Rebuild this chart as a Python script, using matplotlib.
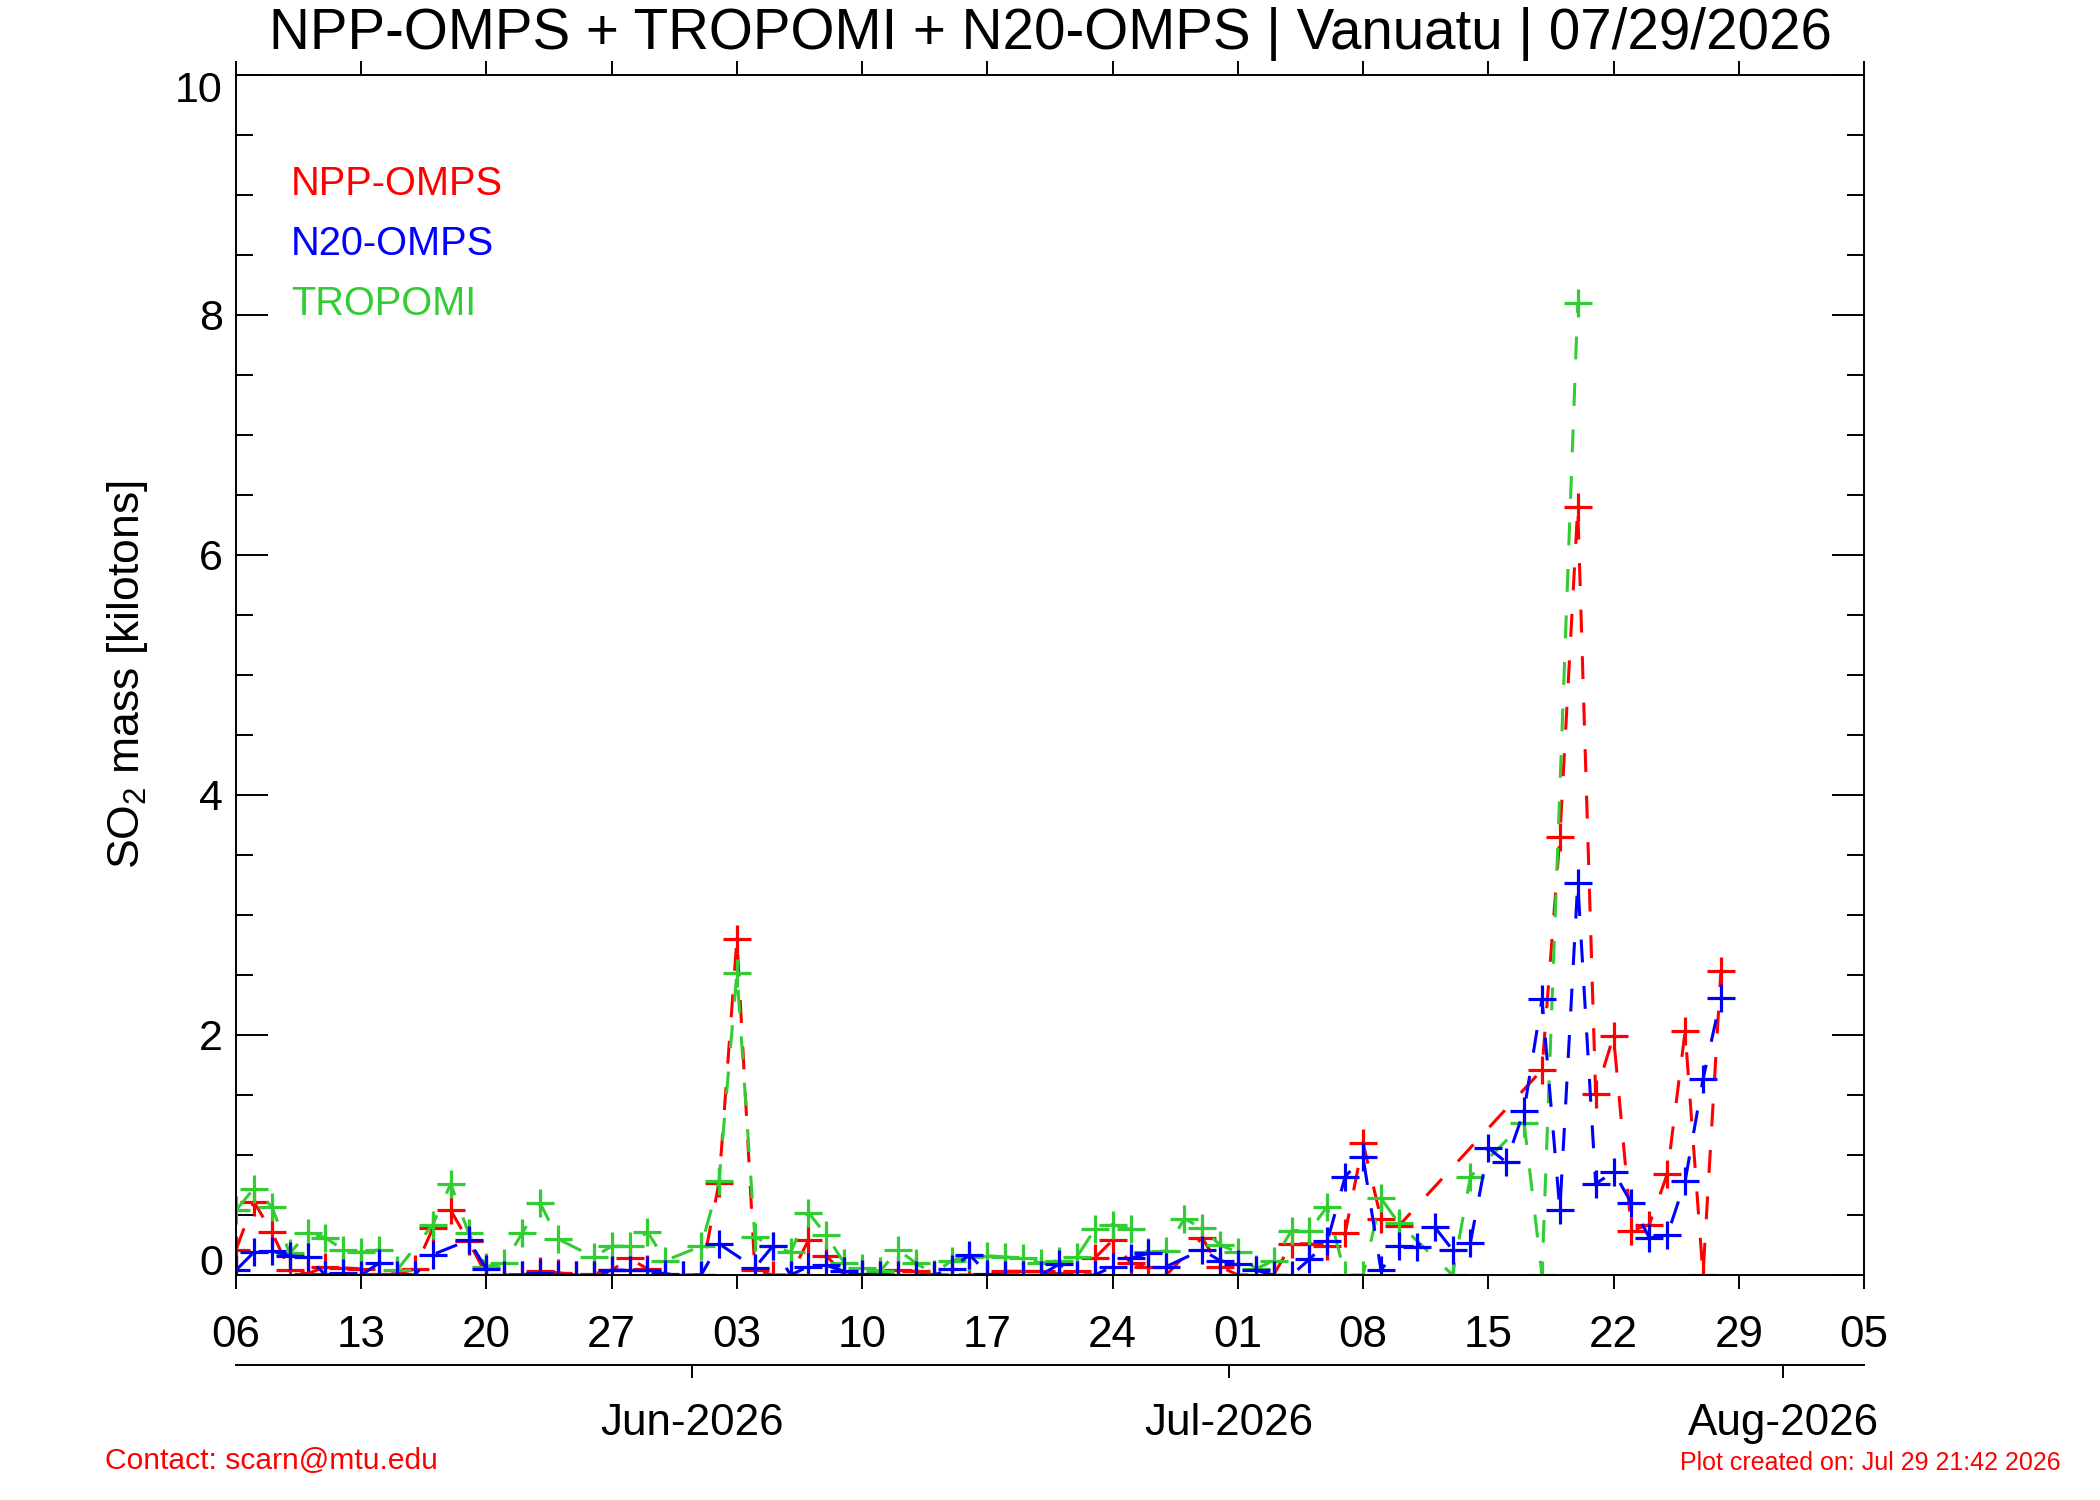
import matplotlib
matplotlib.use('Agg')
import matplotlib.pyplot as plt
import matplotlib.dates as mdates
from matplotlib.transforms import ScaledTranslation
from matplotlib.ticker import FixedLocator, FixedFormatter, MultipleLocator, NullLocator

plt.rcParams['font.family'] = ['Liberation Sans', 'DejaVu Sans']
plt.rcParams['mathtext.fontset'] = 'custom'
plt.rcParams['mathtext.rm'] = 'Liberation Sans'
plt.rcParams['mathtext.it'] = 'Liberation Sans:italic'
plt.rcParams['mathtext.default'] = 'rm'
plt.rcParams['lines.scale_dashes'] = False

YEAR = 2026
TITLE = 'NPP-OMPS + TROPOMI + N20-OMPS | Vanuatu | 07/29/2026'

# ---------------- data (MM-DD, kilotons) ----------------
npp_dates = ['05-06', '05-07', '05-08', '05-09', '05-10', '05-11', '05-12', '05-13', '05-14', '05-15',
             '05-16', '05-17', '05-18', '05-19', '05-20', '05-21', '05-22', '05-23', '05-24', '05-25',
             '05-26', '05-27', '05-28', '05-29', '05-30', '05-31', '06-01', '06-02', '06-03', '06-04',
             '06-05', '06-06', '06-07', '06-08', '06-09', '06-10', '06-11', '06-12', '06-13', '06-14',
             '06-15', '06-16', '06-17', '06-18', '06-19', '06-20', '06-21', '06-22', '06-23', '06-24',
             '06-25', '06-26', '06-27', '06-29', '06-30', '07-01', '07-02', '07-03', '07-04', '07-05',
             '07-06', '07-07', '07-08', '07-09', '07-10', '07-18', '07-19', '07-20', '07-21', '07-22',
             '07-23', '07-24', '07-25', '07-26', '07-27', '07-28']
npp_values = [0.21, 0.61, 0.36, 0.04, 0.01, 0.07, 0.06, 0.05, 0.01, 0.01,
              0.05, 0.39, 0.54, 0.28, 0.00, 0.00, 0.00, 0.03, 0.02, 0.00,
              0.01, 0.04, 0.14, 0.05, 0.00, 0.00, 0.00, 0.77, 2.80, 0.04,
              0.00, 0.00, 0.29, 0.16, 0.00, 0.00, 0.00, 0.04, 0.03, 0.00,
              0.00, 0.00, 0.00, 0.03, 0.03, 0.03, 0.01, 0.03, 0.14, 0.29,
              0.10, 0.07, 0.00, 0.31, 0.07, 0.00, 0.00, 0.00, 0.26, 0.26,
              0.24, 0.35, 1.10, 0.47, 0.41, 1.71, 3.65, 6.40, 1.51, 1.99,
              0.37, 0.42, 0.84, 2.03, 0.00, 2.53]

n20_dates = ['05-06', '05-07', '05-08', '05-09', '05-10', '05-11', '05-12', '05-13', '05-14', '05-15',
             '05-16', '05-17', '05-19', '05-20', '05-21', '05-22', '05-23', '05-24', '05-25', '05-26',
             '05-27', '05-28', '05-29', '05-30', '05-31', '06-01', '06-02', '06-04', '06-05', '06-06',
             '06-07', '06-08', '06-09', '06-10', '06-11', '06-12', '06-13', '06-14', '06-15', '06-16',
             '06-17', '06-18', '06-19', '06-20', '06-21', '06-22', '06-23', '06-24', '06-25', '06-26',
             '06-27', '06-29', '06-30', '07-01', '07-02', '07-03', '07-04', '07-05', '07-06', '07-07',
             '07-08', '07-09', '07-10', '07-11', '07-12', '07-13', '07-14', '07-15', '07-16', '07-17',
             '07-18', '07-19', '07-20', '07-21', '07-22', '07-23', '07-24', '07-25', '07-26', '07-27',
             '07-28']
n20_values = [0.04, 0.19, 0.20, 0.16, 0.15, 0.00, 0.02, 0.00, 0.10, 0.00,
              0.00, 0.17, 0.29, 0.05, 0.00, 0.00, 0.02, 0.00, 0.00, 0.00,
              0.04, 0.04, 0.04, 0.01, 0.00, 0.00, 0.26, 0.06, 0.24, 0.00,
              0.07, 0.08, 0.03, 0.01, 0.00, 0.00, 0.00, 0.00, 0.05, 0.17,
              0.01, 0.00, 0.00, 0.00, 0.09, 0.00, 0.00, 0.07, 0.14, 0.18,
              0.07, 0.21, 0.12, 0.09, 0.04, 0.00, 0.00, 0.13, 0.28, 0.82,
              0.98, 0.04, 0.24, 0.23, 0.40, 0.21, 0.27, 1.06, 0.94, 1.37,
              2.30, 0.54, 3.27, 0.76, 0.86, 0.60, 0.31, 0.33, 0.78, 1.63,
              2.31]

tropomi_dates = ['05-06', '05-07', '05-08', '05-09', '05-10', '05-11', '05-12', '05-13', '05-14', '05-15',
                 '05-17', '05-18', '05-19', '05-20', '05-21', '05-22', '05-23', '05-24', '05-26', '05-27',
                 '05-28', '05-29', '05-30', '06-01', '06-02', '06-03', '06-04', '06-05', '06-06', '06-07',
                 '06-08', '06-09', '06-10', '06-11', '06-12', '06-13', '06-14', '06-15', '06-16', '06-17',
                 '06-18', '06-19', '06-20', '06-21', '06-22', '06-23', '06-24', '06-25', '06-26', '06-27',
                 '06-28', '06-29', '06-30', '07-01', '07-02', '07-03', '07-04', '07-05', '07-06', '07-07',
                 '07-08', '07-09', '07-10', '07-13', '07-14', '07-17', '07-18', '07-20']
tropomi_values = [0.54, 0.72, 0.57, 0.18, 0.35, 0.31, 0.21, 0.19, 0.21, 0.04,
                  0.42, 0.76, 0.35, 0.07, 0.10, 0.35, 0.60, 0.30, 0.15, 0.24,
                  0.24, 0.36, 0.12, 0.24, 0.78, 2.52, 0.32, 0.24, 0.19, 0.52,
                  0.33, 0.10, 0.06, 0.03, 0.21, 0.10, 0.01, 0.12, 0.15, 0.16,
                  0.15, 0.14, 0.10, 0.12, 0.15, 0.38, 0.42, 0.38, 0.19, 0.20,
                  0.47, 0.39, 0.25, 0.19, 0.05, 0.12, 0.37, 0.37, 0.57, 0.00,
                  0.00, 0.64, 0.43, 0.00, 0.82, 1.27, 0.00, 8.10]

week_tick_dates = ['05-06', '05-13', '05-20', '05-27', '06-03', '06-10', '06-17', '06-24',
                   '07-01', '07-08', '07-15', '07-22', '07-29', '08-05']
week_tick_labels = ['06', '13', '20', '27', '03', '10', '17', '24', '01', '08', '15', '22', '29', '05']
month_tick_dates = ['06-01', '07-01', '08-01']
month_tick_labels = ['Jun-2026', 'Jul-2026', 'Aug-2026']
y_tick_values = [0, 2, 4, 6, 8, 10]
y_tick_labels = ['0', '2', '4', '6', '8', '10']

legend_labels = ['NPP-OMPS', 'N20-OMPS', 'TROPOMI']
RED, BLUE, GREEN = '#ff0000', '#0000ff', '#32cd32'


def day_noon(md):
    return mdates.datestr2num(f'{YEAR}-{md}') + 0.5


def day_start(md):
    return mdates.datestr2num(f'{YEAR}-{md}')


fig = plt.figure(figsize=(21, 15), dpi=100)
ax = fig.add_axes([236 / 2100, 1 - 1275 / 1500, 1628 / 2100, 1200 / 1500])

style = dict(linestyle=(0, (16.5, 17.0)), linewidth=2.2, marker='+', markersize=19.5,
             markeredgewidth=2.3)
ax.plot([day_noon(d) for d in npp_dates], npp_values, color=RED, **style)
ax.plot([day_noon(d) for d in tropomi_dates], tropomi_values, color=GREEN, **style)
ax.plot([day_noon(d) for d in n20_dates], n20_values, color=BLUE, **style)

ax.set_xlim(day_noon(week_tick_dates[0]), day_noon(week_tick_dates[-1]))
ax.set_ylim(0, 10)

for s in ax.spines.values():
    s.set_linewidth(1.4)

ax.xaxis.set_major_locator(FixedLocator([day_noon(d) for d in week_tick_dates]))
ax.xaxis.set_major_formatter(FixedFormatter(week_tick_labels))
ax.xaxis.set_minor_locator(NullLocator())
ax.tick_params(axis='x', which='major', bottom=True, top=True, direction='out',
               length=10, width=1.4, pad=18.5, labelsize=31.7)

ax.yaxis.set_minor_locator(MultipleLocator(0.5))
ax.tick_params(axis='y', which='both', left=True, right=True, direction='in', width=1.4)
ax.tick_params(axis='y', which='major', length=23, pad=9.5, labelsize=31)
ax.tick_params(axis='y', which='minor', length=12)
ax.set_yticks(y_tick_values)
ax.set_yticklabels(y_tick_labels)
ylabs = ax.get_yticklabels()
ylabs[0].set_va('baseline')
ylabs[-1].set_va('top')
ylabs[-1].set_transform(ylabs[-1].get_transform()
                        + ScaledTranslation(0, 4 / 100, fig.dpi_scale_trans))

ax.set_ylabel('SO$_2$ mass [kilotons]', fontsize=32)
ax.yaxis.label.set(ha='center', va='center', rotation_mode='default')
ax.yaxis.set_label_coords((127 - 236) / 1628, 0.5)

sec = ax.secondary_xaxis(-0.075)
sec.xaxis.set_major_locator(FixedLocator([day_start(d) for d in month_tick_dates]))
sec.xaxis.set_major_formatter(FixedFormatter(month_tick_labels))
sec.xaxis.set_minor_locator(NullLocator())
sec.tick_params(axis='x', which='major', direction='out', length=9.5, width=1.4,
                pad=18, labelsize=31.7)
sec.spines['bottom'].set_linewidth(1.4)

for i, (lab, col) in enumerate(zip(legend_labels, [RED, BLUE, GREEN])):
    ax.text(0.0338, 0.90 - 0.05 * i, lab, color=col, fontsize=28.6, va='baseline', ha='left',
            transform=ax.transAxes)

fig.text(0.5, 1 - 49 / 1500, TITLE, ha='center', va='baseline', fontsize=40.7)
fig.text(105 / 2100, 1 - 1469 / 1500, 'Contact: scarn@mtu.edu', color=RED, fontsize=21.6,
         ha='left', va='baseline')
fig.text(2061 / 2100, 1 - 1470 / 1500, 'Plot created on: Jul 29 21:42 2026', color=RED,
         fontsize=18, ha='right', va='baseline')

fig.savefig('out.png', dpi=100)
